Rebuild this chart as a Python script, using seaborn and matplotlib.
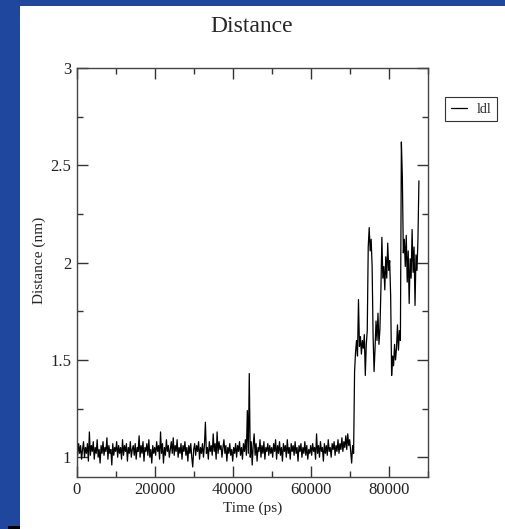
import numpy as np
import pandas as pd
import seaborn as sns
import matplotlib
import matplotlib.pyplot as plt
from matplotlib.ticker import MultipleLocator, FuncFormatter
from matplotlib.patches import Rectangle

matplotlib.use("Agg")

# dados (passo de 250 ps)
passo_ps = 250
distancia_nm = [
    # 0 - 9750
    1.05, 1.01, 1.07, 1.02, 1.06, 0.99, 1.04, 1.08, 1.00, 1.05, 1.02, 1.07, 0.98, 1.13, 1.01, 1.06, 1.03, 1.08, 0.99, 1.05,
    1.02, 1.09, 1.00, 1.04, 0.97, 1.06, 1.02, 1.08, 1.01, 1.05, 1.03, 1.10, 0.99, 1.06, 1.02, 1.04, 0.96, 1.07, 1.01, 1.05,
    # 10000 - 19750
    1.03, 1.08, 1.00, 1.06, 1.02, 1.05, 0.99, 1.09, 1.01, 1.06, 1.03, 1.07, 0.98, 1.05, 1.02, 1.08, 1.00, 1.04, 1.06, 1.01,
    1.07, 0.99, 1.05, 1.03, 1.11, 1.00, 1.06, 1.02, 1.08, 0.98, 1.05, 1.03, 1.07, 1.01, 1.09, 1.00, 1.04, 0.97, 1.06, 1.02,
    # 20000 - 29750
    1.05, 1.01, 1.08, 1.03, 1.06, 0.99, 1.13, 1.02, 1.07, 0.97, 1.05, 1.01, 1.09, 1.03, 1.06, 1.00, 1.04, 1.08, 1.02, 1.10,
    1.01, 1.06, 1.03, 1.09, 1.00, 1.05, 1.02, 1.07, 0.99, 1.06, 1.03, 1.08, 1.01, 1.05, 0.98, 1.06, 1.02, 1.07, 1.00, 0.95,
    # 30000 - 39750
    1.04, 1.07, 1.01, 1.06, 1.03, 1.08, 0.99, 1.05, 1.02, 1.07, 1.00, 1.06, 1.18, 1.02, 1.05, 0.99, 1.08, 1.03, 1.06, 1.01,
    1.12, 1.03, 1.07, 0.99, 1.13, 1.02, 1.08, 1.04, 1.06, 1.00, 1.05, 1.09, 1.02, 1.06, 0.98, 1.05, 1.02, 1.07, 1.01, 1.04,
    # 40000 - 49750
    0.98, 1.05, 1.02, 1.07, 1.00, 1.06, 1.03, 1.08, 1.01, 1.05, 0.99, 1.07, 1.03, 1.09, 1.01, 1.24, 1.02, 1.43, 1.00, 1.08,
    0.96, 1.06, 1.12, 1.01, 1.07, 0.98, 1.05, 1.03, 1.09, 1.00, 1.06, 1.02, 1.08, 0.99, 1.05, 1.03, 1.07, 1.01, 1.06, 1.02,
    # 50000 - 59750
    1.05, 1.00, 1.07, 1.03, 1.09, 0.99, 1.06, 1.02, 1.08, 1.01, 1.05, 0.98, 1.07, 1.03, 1.06, 1.00, 1.09, 1.02, 1.05, 0.99,
    1.07, 1.03, 1.06, 1.01, 1.08, 1.02, 1.05, 0.98, 1.06, 1.03, 1.07, 1.00, 1.05, 1.02, 1.08, 1.01, 1.06, 0.99, 1.04, 1.02,
    # 60000 - 69750
    1.06, 1.01, 1.07, 1.03, 1.05, 0.99, 1.12, 1.02, 1.06, 1.00, 1.08, 1.03, 1.05, 0.98, 1.07, 1.02, 1.06, 1.01, 1.09, 1.03,
    1.05, 1.00, 1.07, 1.04, 1.08, 1.01, 1.06, 1.03, 1.09, 1.02, 1.07, 1.04, 1.10, 1.03, 1.08, 1.05, 1.11, 1.04, 1.12, 1.06,
    # 70000 - 79750
    1.09, 1.03, 0.97, 1.06, 1.02, 1.44, 1.54, 1.60, 1.52, 1.81, 1.57, 1.62, 1.53, 1.60, 1.56, 1.63, 1.42, 1.58, 1.65, 2.08,
    2.18, 2.06, 2.12, 1.98, 1.62, 1.44, 1.56, 1.70, 1.60, 1.74, 1.58, 1.66, 1.86, 2.13, 1.92, 1.98, 1.86, 2.03, 1.92, 2.10,
    # 80000 - 87750
    1.96, 2.01, 1.83, 1.42, 1.52, 1.47, 1.58, 1.50, 1.56, 1.68, 1.55, 1.65, 1.60, 2.62, 2.44, 2.05, 2.12, 1.98, 2.14, 1.90,
    2.06, 1.79, 2.02, 1.92, 2.17, 1.95, 2.08, 1.78, 2.04, 1.96, 2.12, 2.42,
]
tempo_ps = np.arange(len(distancia_nm)) * passo_ps
df = pd.DataFrame({"tempo": tempo_ps, "distancia": distancia_nm})

# Configurações visuais
sns.set_theme(style="ticks")
plt.rcParams["font.family"] = ["Liberation Serif", "DejaVu Serif"]

fig = plt.figure(figsize=(5.05, 5.29), dpi=100)
fig.patch.set_facecolor("#1f479e")
# painel branco
fig.add_artist(Rectangle((20 / 505, 0), 1, 1 - 6 / 529, transform=fig.transFigure,
                         facecolor="white", edgecolor="none", zorder=0))
fig.add_artist(Rectangle((8 / 505, 0), 12 / 505, 3 / 529, transform=fig.transFigure,
                         facecolor="black", edgecolor="none", zorder=0))

ax = fig.add_axes([76.7 / 505, 1 - 476.7 / 529, 351 / 505, 408.7 / 529])
sns.lineplot(x="tempo", y="distancia", data=df, ax=ax, color="black",
             linewidth=0.9, estimator=None, label="ldl", legend=False)

ax.set_xlim(0, 90000)
ax.set_ylim(0.9, 3)
ax.xaxis.set_major_locator(MultipleLocator(20000))
ax.xaxis.set_minor_locator(MultipleLocator(10000))
ax.yaxis.set_major_locator(MultipleLocator(0.5))
ax.yaxis.set_minor_locator(MultipleLocator(0.25))
ax.yaxis.set_major_formatter(FuncFormatter(lambda v, p: "%g" % v))
ax.tick_params(which="both", direction="in", top=True, right=True,
               color="#333333", labelsize=12, labelcolor="#222222")
ax.tick_params(which="major", length=8, width=1, pad=4)
ax.tick_params(which="minor", length=4, width=1)
for s in ax.spines.values():
    s.set_color("#444444")
    s.set_linewidth(1)

ax.set_xlabel("Time (ps)", fontsize=11, labelpad=2)
ax.set_ylabel("Distance (nm)", fontsize=11)
ax.yaxis.set_label_coords(-0.088, 0.53)

fig.text(252 / 505, 1 - 32 / 529, "Distance", ha="center", va="baseline", fontsize=17)

handles, labels = ax.get_legend_handles_labels()
fig.legend(handles, labels, loc="upper left", bbox_to_anchor=(445 / 505, 1 - 97 / 529),
           fontsize=10, frameon=True, fancybox=False, edgecolor="black",
           handlelength=1.2, handletextpad=0.7, borderpad=0.4, borderaxespad=0)
leg = fig.legends[0]
leg.get_frame().set_linewidth(0.8)

fig.savefig("out.png", dpi=100, facecolor=fig.get_facecolor())
